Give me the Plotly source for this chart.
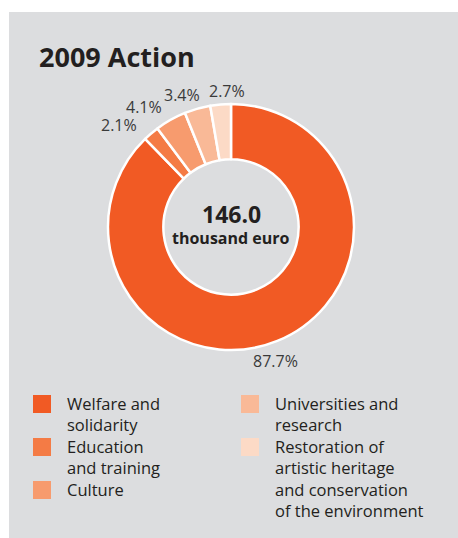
import math
import plotly.graph_objects as go

# Breakdown of 2009 action by sector (share of total, %)
sectors = [
    "Welfare and<br>solidarity",
    "Education<br>and training",
    "Culture",
    "Universities and<br>research",
    "Restoration of<br>artistic heritage<br>and conservation<br>of the environment",
]
shares = [87.7, 2.1, 4.1, 3.4, 2.7]
colors = ["#F15A24", "#F47B45", "#F79B6E", "#F9B997", "#FCDAC6"]

total_value = "146.0"
total_unit = "thousand euro"
title_text = "2009 Action"

W, H = 458, 538
BG = "#DCDDDF"
INK = "#231F20"
FONT = "Open Sans"


def px(x):
    return x / W


def py(y):
    return 1 - y / H


# donut geometry in pixels
cx, cy, r = 231, 227, 123

fig = go.Figure()
fig.add_trace(go.Pie(
    values=shares,
    labels=sectors,
    marker=dict(colors=colors, line=dict(color="white", width=2.5)),
    hole=0.55,
    sort=False,
    direction="clockwise",
    rotation=0,
    textinfo="none",
    showlegend=False,
    hoverinfo="label+value",
    automargin=False,
    domain=dict(x=[px(cx - r), px(cx + r)], y=[py(cy + r), py(cy - r)]),
))

shapes = [
    # grey panel
    dict(type="rect", xref="paper", yref="paper", x0=px(9), x1=1.0, y0=0.0, y1=py(12),
         fillcolor=BG, line=dict(width=0), layer="below"),
]
annotations = [
    dict(text=f"<b>{title_text}</b>", x=px(37), y=py(56), xref="paper", yref="paper",
         xanchor="left", yanchor="middle", showarrow=False,
         font=dict(family=FONT, size=27, color=INK)),
    dict(text=f"<b>{total_value}</b>", x=px(cx), y=py(214), xref="paper", yref="paper",
         xanchor="center", yanchor="middle", showarrow=False,
         font=dict(family=FONT, size=23, color=INK)),
    dict(text=f"<b>{total_unit}</b>", x=px(cx), y=py(238), xref="paper", yref="paper",
         xanchor="center", yanchor="middle", showarrow=False,
         font=dict(family=FONT, size=16, color=INK)),
]

# percentage labels just outside each slice, at the slice's mid angle
label_gap, box_w, box_h = 10, 36, 16
label_nudge = [(-12, 3), (-14, 5), (-13, 3), (-8, 4), (9, 4)]
cum = 0.0
for v, (ndx, ndy) in zip(shares, label_nudge):
    theta = 2 * math.pi * (cum + v / 2) / sum(shares)
    cum += v
    s, c = math.sin(theta), math.cos(theta)
    lx = cx + (r + label_gap) * s + s * box_w / 2 + ndx
    ly = cy - (r + label_gap) * c - c * box_h / 2 + ndy
    annotations.append(dict(text=f"{v:.1f}%", x=px(lx), y=py(ly), xref="paper", yref="paper",
                            xanchor="center", yanchor="middle", showarrow=False,
                            font=dict(family=FONT, size=16, color="#3A3A3A")))

# legend: two columns of colour swatches with wrapped labels
legend_slots = [(33, 395), (33, 438), (33, 481), (241, 395), (241, 438)]
for (sx, sy), name, col in zip(legend_slots, sectors, colors):
    shapes.append(dict(type="rect", xref="paper", yref="paper",
                       x0=px(sx), x1=px(sx + 18), y0=py(sy + 18), y1=py(sy),
                       fillcolor=col, line=dict(width=0)))
    annotations.append(dict(text=name, x=px(sx + 32), y=py(sy - 5), xref="paper", yref="paper",
                            xanchor="left", yanchor="top", align="left", showarrow=False,
                            font=dict(family=FONT, size=16.5, color=INK)))

fig.update_layout(
    width=W, height=H,
    margin=dict(l=0, r=0, t=0, b=0),
    paper_bgcolor="white",
    plot_bgcolor="white",
    shapes=shapes,
    annotations=annotations,
)

fig.write_html("out.html")
